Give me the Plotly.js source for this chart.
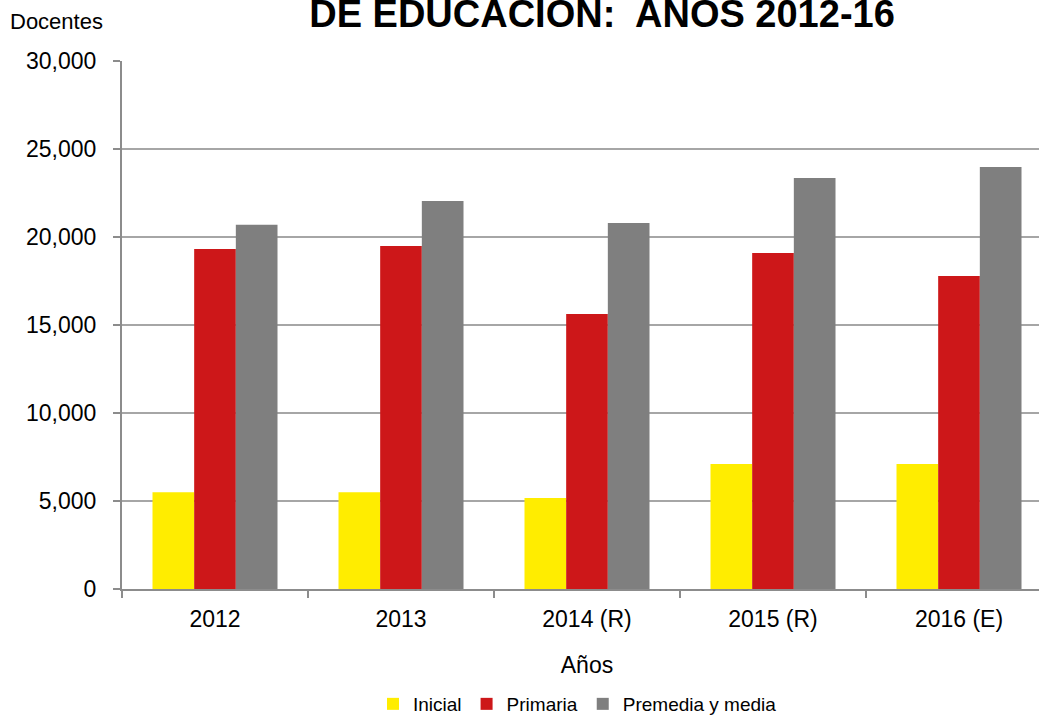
<!DOCTYPE html>
<html>
<head>
<meta charset="utf-8">
<script src="https://cdn.plot.ly/plotly-3.0.1.min.js"></script>
<style>html,body{margin:0;padding:0;background:#fff;overflow:hidden;width:1039px;height:715px;}#chart{width:1060px;height:715px;}</style>
</head>
<body>
<div id="chart"></div>
<script>
const categories = ["2012", "2013", "2014 (R)", "2015 (R)", "2016 (E)"];
const inicial = [5500, 5500, 5170, 7100, 7100];
const primaria = [19320, 19490, 15630, 19090, 17780];
const premedia = [20690, 22050, 20800, 23350, 23980];
const seriesNames = ["Inicial", "Primaria", "Premedia y media"];
const yTickVals = [0, 5000, 10000, 15000, 20000, 25000, 30000];
const yTickText = ["0", "5,000", "10,000", "15,000", "20,000", "25,000", "30,000"];

const W = 1060, H = 715;
const font = "Liberation Sans, Arial, sans-serif";
const colors = ["#FFED00", "#CD1719", "#7F7F7F"];
const data = [inicial, primaria, premedia].map((vals, i) => ({
  type: "bar",
  name: seriesNames[i],
  x: categories,
  y: vals,
  marker: {color: colors[i], line: {width: 0}},
  hoverinfo: "x+y+name"
}));

const mL = 122, mR = W - 1052, mT = 61, mB = H - 589;
const plotW = W - mL - mR, plotH = H - mT - mB;

const layout = {
  width: W, height: H,
  paper_bgcolor: "#fff", plot_bgcolor: "#fff",
  margin: {l: mL, r: mR, t: mT, b: mB, autoexpand: false},
  font: {family: font, color: "#000", size: 23},
  title: {
    text: "<b>DE EDUCACIÓN:  AÑOS 2012-16</b>",
    font: {family: font, size: 38, color: "#000"},
    x: 602 / W, xanchor: "center", xref: "container",
    y: 1 - 14 / H, yanchor: "middle", yref: "container"
  },
  barmode: "group",
  bargap: 0.328,
  bargroupgap: 0,
  showlegend: true,
  legend: {
    orientation: "h", x: 373 / W, xanchor: "left", xref: "container",
    y: 11 / H, yanchor: "middle", yref: "container",
    font: {family: font, size: 19, color: "#000"},
    itemwidth: 30, traceorder: "normal"
  },
  xaxis: {
    type: "category",
    tickson: "boundaries",
    ticks: "outside", ticklen: 7, tickcolor: "#8c8c8c", tickwidth: 2,
    ticklabelstandoff: 8,
    showline: true, linecolor: "#8c8c8c", linewidth: 2,
    showgrid: false,
    tickfont: {family: font, size: 23, color: "#000"},
    title: {text: "Años", font: {family: font, size: 23, color: "#000"}, standoff: 26}
  },
  yaxis: {
    range: [0, 30000],
    tickvals: yTickVals, ticktext: yTickText,
    ticks: "outside", ticklen: 7, tickcolor: "#8c8c8c", tickwidth: 2,
    ticklabelstandoff: 12,
    showline: true, linecolor: "#8c8c8c", linewidth: 2,
    showgrid: true, gridcolor: "#a6a6a6", gridwidth: 2,
    zeroline: false,
    tickfont: {family: font, size: 23, color: "#000"}
  },
  annotations: [{
    text: "Docentes", xref: "paper", yref: "paper",
    x: (8 - mL) / plotW, y: (589 - 22) / plotH, xanchor: "left", yanchor: "middle",
    showarrow: false, font: {family: font, size: 22, color: "#000"}
  }]
};

Plotly.newPlot("chart", data, layout, {displayModeBar: false, staticPlot: true});
</script>
</body>
</html>
